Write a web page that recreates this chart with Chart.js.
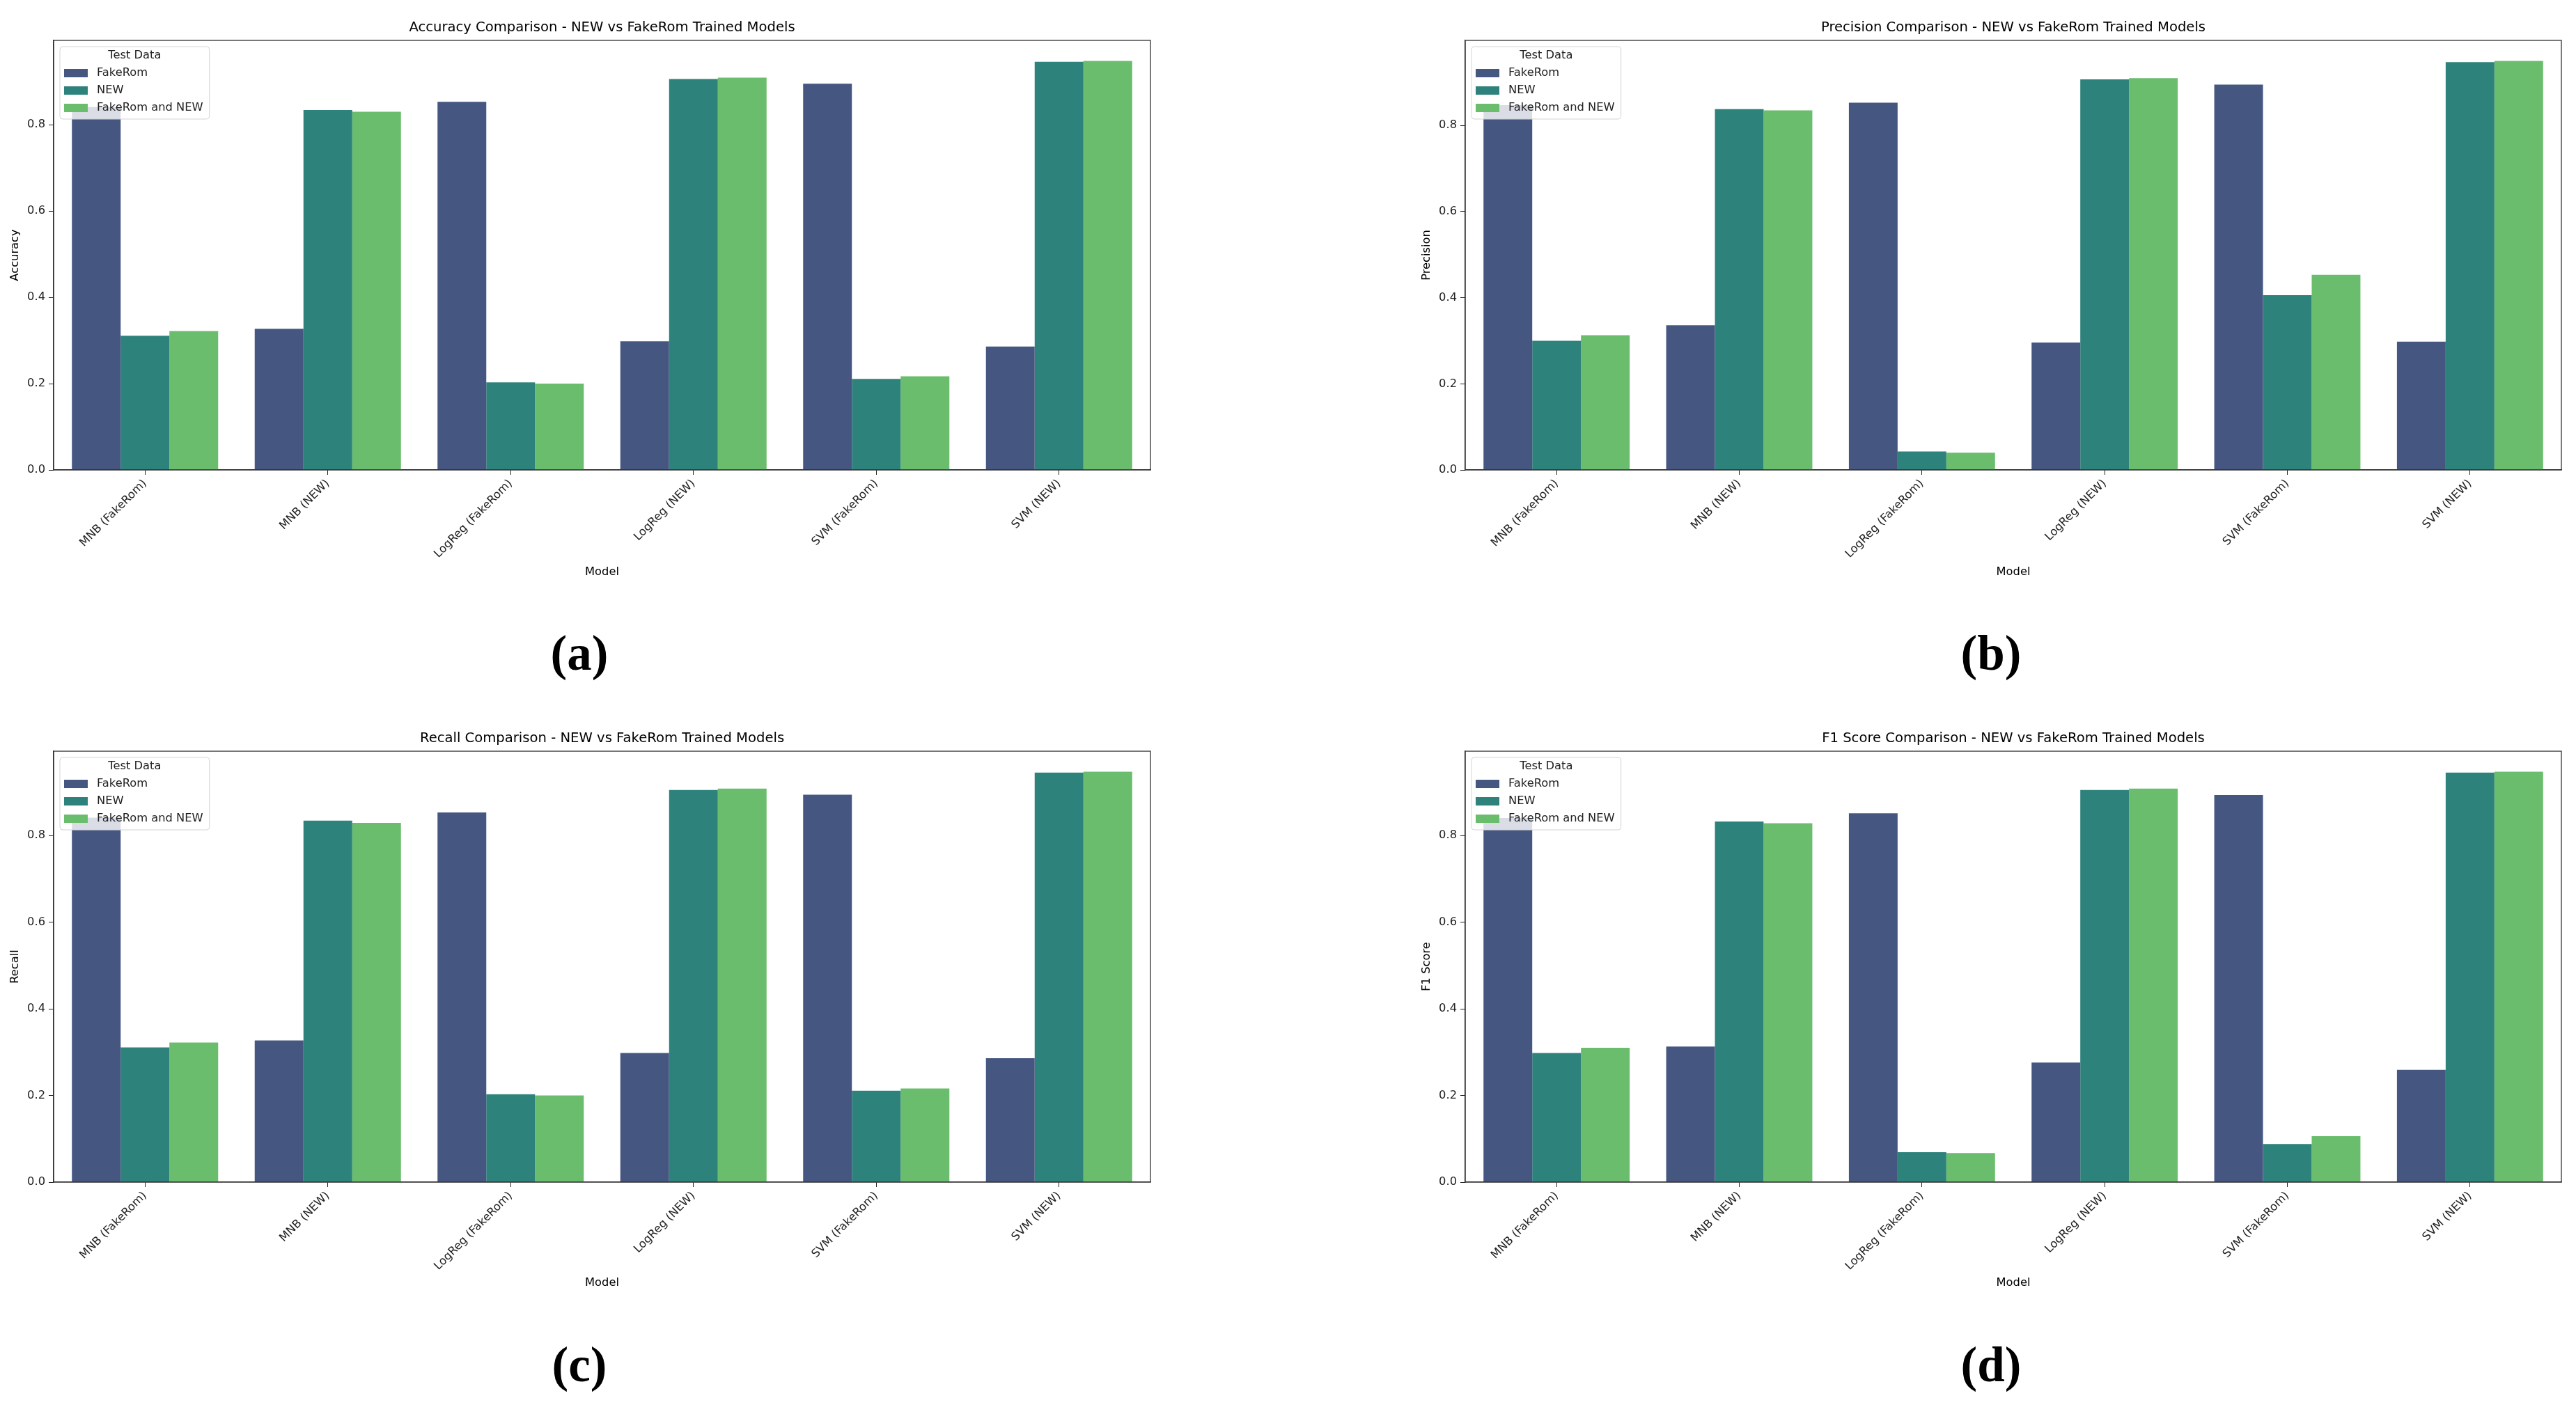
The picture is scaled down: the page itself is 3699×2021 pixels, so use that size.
<!DOCTYPE html>
<html>
<head>
<meta charset="utf-8">
<script src="https://cdn.jsdelivr.net/npm/chart.js@4.4.0/dist/chart.umd.min.js"></script>
<style>
html, body { margin: 0; padding: 0; background: #fff; }
body { width: 3699px; height: 2021px; position: relative; overflow: hidden; }
canvas { position: absolute; }
</style>
</head>
<body>
<canvas id="m-acc" width="1700" height="1000" style="left:0px;top:0px"></canvas>
<canvas id="m-prec" width="1699" height="1000" style="left:2000px;top:0px"></canvas>
<canvas id="m-rec" width="1700" height="1000" style="left:0px;top:1021px"></canvas>
<canvas id="m-f1" width="1699" height="1000" style="left:2000px;top:1021px"></canvas>
<script>
// --- Datos ---
const models = ['MNB (FakeRom)', 'MNB (NEW)', 'LogReg (FakeRom)', 'LogReg (NEW)', 'SVM (FakeRom)', 'SVM (NEW)'];
const testSets = ['FakeRom', 'NEW', 'FakeRom and NEW'];
const yTicks = [0, 0.2, 0.4, 0.6, 0.8];

const accFakeRom = [0.841, 0.327, 0.853, 0.298, 0.895, 0.286];
const accNew     = [0.311, 0.834, 0.203, 0.906, 0.211, 0.946];
const accBoth    = [0.322, 0.830, 0.200, 0.909, 0.217, 0.948];

const precFakeRom = [0.847, 0.336, 0.853, 0.296, 0.895, 0.298];
const precNew     = [0.300, 0.838, 0.043, 0.907, 0.406, 0.947];
const precBoth    = [0.313, 0.835, 0.040, 0.910, 0.453, 0.950];

const recFakeRom = [0.841, 0.327, 0.853, 0.298, 0.894, 0.286];
const recNew     = [0.311, 0.834, 0.203, 0.905, 0.211, 0.945];
const recBoth    = [0.322, 0.829, 0.200, 0.908, 0.216, 0.947];

const f1FakeRom = [0.840, 0.313, 0.851, 0.276, 0.893, 0.259];
const f1New     = [0.298, 0.832, 0.069, 0.905, 0.088, 0.945];
const f1Both    = [0.310, 0.828, 0.067, 0.908, 0.106, 0.947];

// viridis desaturado (seaborn)
const barColors = ['#455681', '#2e827c', '#6abd6c'];

// --- Configuración global ---
Chart.defaults.font.family = "'DejaVu Sans', sans-serif";
Chart.defaults.font.size = 16.3;
Chart.defaults.color = '#222';

// Marco de ejes, leyenda dentro del área y letra del panel
const framePlugin = {
    id: 'frame',
    afterDraw(chart, args, opts) {
        const { ctx, chartArea: a } = chart;
        ctx.save();
        ctx.strokeStyle = '#333';
        ctx.lineWidth = 1.3;
        ctx.strokeRect(a.left, a.top, a.right - a.left, a.bottom - a.top);

        // leyenda "Test Data"
        ctx.font = "16.3px 'DejaVu Sans'";
        const tw = Math.max(...chart.data.datasets.map(d => ctx.measureText(d.label).width));
        const lx = a.left + 9, ly = a.top + 9;
        const w = 53 + tw + 9, h = 104;
        ctx.beginPath();
        ctx.roundRect(lx, ly, w, h, 4);
        ctx.fillStyle = 'rgba(255,255,255,0.8)';
        ctx.fill();
        ctx.strokeStyle = '#d4d4d4';
        ctx.lineWidth = 1;
        ctx.stroke();
        ctx.fillStyle = '#222';
        ctx.textAlign = 'center';
        ctx.textBaseline = 'middle';
        ctx.fillText('Test Data', lx + w / 2, a.top + 22);
        chart.data.datasets.forEach((d, i) => {
            const cy = a.top + 47 + i * 25;
            ctx.fillStyle = d.backgroundColor;
            ctx.fillRect(a.left + 15, cy - 6, 34, 12);
            ctx.fillStyle = '#222';
            ctx.textAlign = 'left';
            ctx.fillText(d.label, a.left + 62, cy);
        });

        // letra del panel
        ctx.font = "bold 71px 'Liberation Serif'";
        ctx.fillStyle = '#000';
        ctx.textAlign = 'center';
        ctx.textBaseline = 'alphabetic';
        ctx.fillText(opts.letter, opts.letterX, opts.letterY);
        ctx.restore();
    }
};

// Fábrica de gráficos de barras agrupadas
function renderMetric(id, metric, series, box) {
    const datasets = series.map((vals, i) => ({
        label: testSets[i],
        data: vals,
        backgroundColor: barColors[i],
        borderWidth: 0,
        categoryPercentage: 0.8,
        barPercentage: 1.0
    }));
    const yMax = Math.max(...series.flat()) * 1.05;
    const axisBottom = 850;

    new Chart(document.getElementById(id), {
        type: 'bar',
        data: { labels: models, datasets: datasets },
        options: {
            responsive: false,
            animation: false,
            layout: { padding: { left: 0, right: box.w - box.plotRight, top: 0, bottom: 1000 - axisBottom } },
            plugins: {
                legend: { display: false },
                tooltip: { enabled: false },
                title: {
                    display: true,
                    fullSize: false, // centrado sobre el área del gráfico
                    text: metric + ' Comparison - NEW vs FakeRom Trained Models',
                    color: '#000',
                    font: { size: 19.6, weight: 'normal' },
                    padding: { top: box.plotTop - 29.5, bottom: 6 }
                },
                frame: { letter: box.letter, letterX: box.letterX, letterY: box.letterY }
            },
            scales: {
                x: {
                    grid: { display: true, drawOnChartArea: false, drawTicks: true, tickLength: 7, color: '#222', offset: false },
                    border: { display: true, color: '#222', width: 1.3 },
                    ticks: { minRotation: 45, maxRotation: 45, padding: 3, color: '#222' },
                    title: { display: true, text: 'Model', color: '#000', padding: { top: 0, bottom: 18 } },
                    afterFit(s) { s.height = axisBottom - box.plotBottom; }
                },
                y: {
                    min: 0,
                    max: yMax,
                    grid: { display: true, drawOnChartArea: false, drawTicks: true, tickLength: 7, color: '#222' },
                    border: { display: true, color: '#222', width: 1.3 },
                    afterBuildTicks(s) { s.ticks = yTicks.map(v => ({ value: v })); },
                    ticks: { padding: 5, callback: v => v.toFixed(1) },
                    title: { display: true, text: metric, color: '#000', padding: { top: box.yTitleX - 9.8, bottom: 0 } },
                    afterFit(s) { s.width = box.plotLeft; }
                }
            }
        },
        plugins: [framePlugin]
    });
}

function initApp() {
    const leftBox = { w: 1700, plotLeft: 77, plotRight: 1652, plotTop: 58, yTitleX: 22, letterX: 832 };
    const rightBox = { w: 1699, plotLeft: 104, plotRight: 1678, plotTop: 58, yTitleX: 49, letterX: 859 };

    renderMetric('m-acc', 'Accuracy', [accFakeRom, accNew, accBoth],
        Object.assign({}, leftBox, { plotBottom: 675, letter: '(a)', letterY: 962 }));
    renderMetric('m-prec', 'Precision', [precFakeRom, precNew, precBoth],
        Object.assign({}, rightBox, { plotBottom: 675, letter: '(b)', letterY: 962 }));
    renderMetric('m-rec', 'Recall', [recFakeRom, recNew, recBoth],
        Object.assign({}, leftBox, { plotBottom: 677, letter: '(c)', letterY: 963 }));
    renderMetric('m-f1', 'F1 Score', [f1FakeRom, f1New, f1Both],
        Object.assign({}, rightBox, { plotBottom: 677, letter: '(d)', letterY: 963 }));
}

window.onload = initApp;
</script>
</body>
</html>
